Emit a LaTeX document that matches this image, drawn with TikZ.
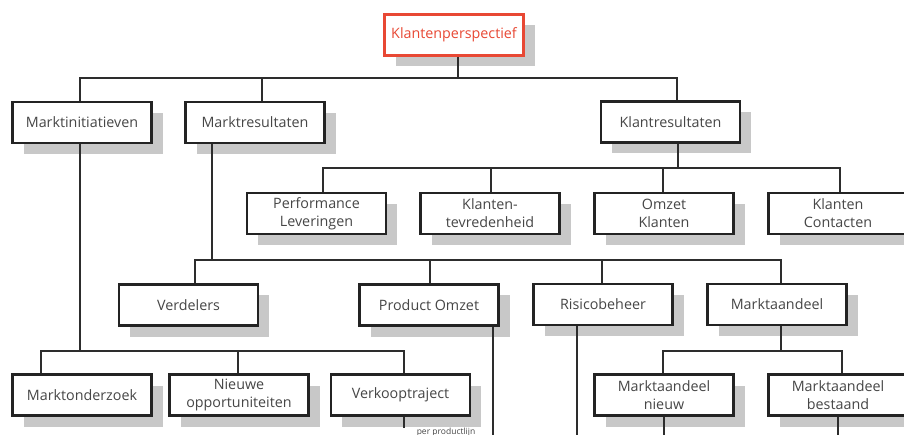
\documentclass[tikz,border=0pt]{standalone}
\usepackage{fontspec}
\setmainfont{Open Sans}
\usetikzlibrary{shadows}
\definecolor{shadowgray}{RGB}{200,200,200}
\definecolor{boxline}{RGB}{35,35,35}
\definecolor{connline}{RGB}{45,45,45}
\definecolor{txtgray}{RGB}{70,70,70}
\definecolor{kpred}{RGB}{232,72,52}
\tikzset{
  box/.style={draw=boxline, line width=2.6pt, fill=white, rectangle,
    minimum width=139pt, minimum height=41pt, inner sep=0pt, align=center,
    text=txtgray, font=\fontsize{14.3}{18}\selectfont,
    general shadow={shadow xshift=11pt, shadow yshift=-11pt, fill=shadowgray}},
  redbox/.style={box, draw=kpred, text=kpred},
  conn/.style={draw=connline, line width=1.8pt},
  smalltext/.style={inner sep=0pt, text=txtgray, font=\fontsize{8.5}{9}\selectfont}
}
\begin{document}
\begin{tikzpicture}[x=1pt, y=-1pt]
\useasboundingbox (0,0) rectangle (904,435);
\clip (0,0) rectangle (904,435);
% bus points
\coordinate (kpbus) at (458,78);
\coordinate (krbus) at (678,168);
\coordinate (mrbus) at (212,260);
\coordinate (mibus) at (80,351);
\coordinate (mabus) at (781,351);
\coordinate (poend) at (493,440);
\coordinate (rbend) at (577,440);
\coordinate (mnend) at (664,440);
\coordinate (mbend) at (838,440);
% nodes
\node[redbox] (kp) at (454,35) {Klantenperspectief};
\node[box] (mi) at (82,122.5) {Marktinitiatieven};
\node[box] (mr) at (255,122.5) {Marktresultaten};
\node[box] (kr) at (670.5,122) {Klantresultaten};
\node[box] (pl) at (316.5,213.5) {Performance\\Leveringen};
\node[box] (kt) at (490,213.5) {Klanten-\\tevredenheid};
\node[box] (ok) at (664,213.5) {Omzet\\Klanten};
\node[box] (kc) at (838,213.5) {Klanten\\Contacten};
\node[box] (vd) at (188.5,305) {Verdelers};
\node[box] (po) at (429,305) {Product Omzet};
\node[box] (rb) at (603,304.5) {Risicobeheer};
\node[box] (ma) at (777,304.5) {Marktaandeel};
\node[box] (mo) at (82,395) {Marktonderzoek};
\node[box] (no) at (239,395) {Nieuwe\\opportuniteiten};
\node[box] (vt) at (400.5,395) {Verkooptraject};
\node[box] (mn) at (664,395) {Marktaandeel\\nieuw};
\node[box] (mb) at (838,395) {Marktaandeel\\bestaand};
\node[smalltext, anchor=north] (ppl) at (446,427.5) {per productlijn};
\coordinate (vtend) at (404,428);
% level 1
\draw[conn] ([xshift=4pt]kp.south) -- (kpbus);
\draw[conn] ([xshift=-2pt]mi.north) |- (kpbus);
\draw[conn] ([xshift=7pt]mr.north) |- (kpbus);
\draw[conn] ([xshift=6.5pt]kr.north) |- (kpbus);
% Klantresultaten children
\draw[conn] ([xshift=7.5pt]kr.south) -- (krbus);
\draw[conn] ([xshift=6.5pt]pl.north) |- (krbus);
\draw[conn] ([xshift=1pt]kt.north) |- (krbus);
\draw[conn] ([xshift=-1pt]ok.north) |- (krbus);
\draw[conn] ([xshift=2pt]kc.north) |- (krbus);
% Marktresultaten children
\draw[conn] ([xshift=-43pt]mr.south) -- (mrbus);
\draw[conn] ([xshift=6.5pt]vd.north) |- (mrbus);
\draw[conn] ([xshift=1pt]po.north) |- (mrbus);
\draw[conn] ([xshift=-1pt]rb.north) |- (mrbus);
\draw[conn] ([xshift=4pt]ma.north) |- (mrbus);
% Marktinitiatieven children
\draw[conn] ([xshift=-2pt]mi.south) -- (mibus);
\draw[conn] ([xshift=-41pt]mo.north) |- (mibus);
\draw[conn] ([xshift=-1pt]no.north) |- (mibus);
\draw[conn] ([xshift=3.5pt]vt.north) |- (mibus);
% Marktaandeel children
\draw[conn] ([xshift=4pt]ma.south) -- (mabus);
\draw[conn] ([xshift=-1pt]mn.north) |- (mabus);
\draw[conn] ([xshift=4pt]mb.north) |- (mabus);
% dangling lines
\draw[conn] ([xshift=64pt]po.south) -- (poend);
\draw[conn] ([xshift=-26pt]rb.south) -- (rbend);
\draw[conn] ([xshift=3.5pt]vt.south) -- (vtend);
\draw[conn] (mn.south) -- (mnend);
\draw[conn] (mb.south) -- (mbend);
\end{tikzpicture}
\end{document}
